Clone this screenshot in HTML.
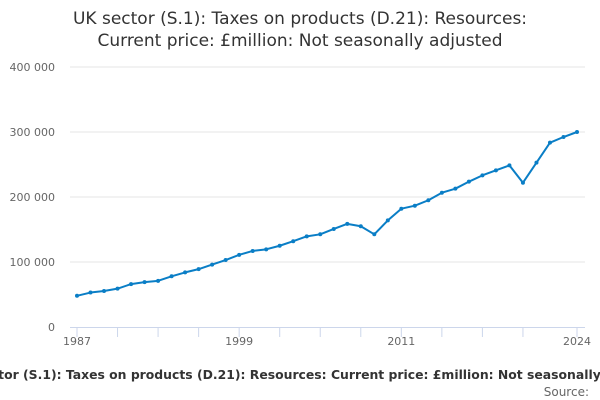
<!DOCTYPE html>
<html><head><meta charset="utf-8"><style>
html,body{margin:0;padding:0;background:#fff;width:600px;height:400px;overflow:hidden}
svg{display:block;font-family:"DejaVu Sans","Liberation Sans",sans-serif}
</style></head><body>
<svg id="chart" width="600" height="400" viewBox="0 0 600 400">
<text x="300" y="24" text-anchor="middle" font-size="17" fill="#333">UK sector (S.1): Taxes on products (D.21): Resources:</text>
<text x="300" y="46" text-anchor="middle" font-size="17" fill="#333">Current price: £million: Not seasonally adjusted</text>
<g id="grid"></g>
<g id="yl"></g>
<g id="xa"></g>
<g id="series"></g>
<text x="666" y="379" text-anchor="end" font-size="12.4" font-weight="bold" fill="#333">UK sector (S.1): Taxes on products (D.21): Resources: Current price: £million: Not seasonally adjusted</text>
<text x="589" y="396" text-anchor="end" font-size="12" fill="#666">Source:</text>
</svg>
<script>
const years=[1987,1988,1989,1990,1991,1992,1993,1994,1995,1996,1997,1998,1999,2000,2001,2002,2003,2004,2005,2006,2007,2008,2009,2010,2011,2012,2013,2014,2015,2016,2017,2018,2019,2020,2021,2022,2023,2024];
const values=[48000,53000,55400,59000,66000,69000,71000,78000,84000,89000,96000,103000,111000,117000,119500,125000,132000,139500,142600,150800,158700,155000,142600,164000,182000,186600,195000,206600,212800,223600,233300,241000,248700,222000,252800,283600,292300,300000];
const yTicks=[0,100000,200000,300000,400000];
const yTickLabels=["0","100 000","200 000","300 000","400 000"];
const xTicks=[1987,1990,1993,1996,1999,2002,2005,2008,2011,2014,2017,2020,2024];
const xLabels=[1987,1999,2011,2024];
const NS="http://www.w3.org/2000/svg";
const x0=77,x1=577,y0=327,y1=67;
const xs=v=>x0+(v-1987)/(2024-1987)*(x1-x0);
const ys=v=>y0-v/400000*(y0-y1);
function mk(t,a,p){const e=document.createElementNS(NS,t);for(const k in a)e.setAttribute(k,a[k]);p.appendChild(e);return e;}
const grid=document.getElementById('grid'),yl=document.getElementById('yl'),xa=document.getElementById('xa'),se=document.getElementById('series');
yTicks.forEach((v,i)=>{
 if(i>0){const l=mk('line',{x1:70,x2:585,y1:ys(v),y2:ys(v),stroke:'#e6e6e6','stroke-width':1},grid);
 
 }
 const t=mk('text',{x:55,y:ys(v)+4,'text-anchor':'end','font-size':11,fill:'#666'},yl);
 t.textContent=yTickLabels[i];
 
 
});
const ax=mk('line',{x1:70,x2:585,y1:y0+0.5,y2:y0+0.5,stroke:'#ccd6eb','stroke-width':1},xa);


xTicks.forEach(v=>{
 const l=mk('line',{x1:xs(v),x2:xs(v),y1:y0,y2:y0+10,stroke:'#ccd6eb','stroke-width':1},xa);
 
 
});
xLabels.forEach(v=>{
 const t=mk('text',{x:xs(v),y:y0+18,'text-anchor':'middle','font-size':11,fill:'#666'},xa);
 t.textContent=v;
 
 
});
const pts=years.map((y,i)=>xs(y)+','+ys(values[i])).join(' ');
const pl=mk('polyline',{points:pts,fill:'none',stroke:'#0a7ec6','stroke-width':2,'stroke-linejoin':'round'},se);


years.forEach((y,i)=>{
 const c=mk('circle',{cx:xs(y),cy:ys(values[i]),r:2,fill:'#0a7ec6'},se);
 
 
});
</script>
</body></html>
